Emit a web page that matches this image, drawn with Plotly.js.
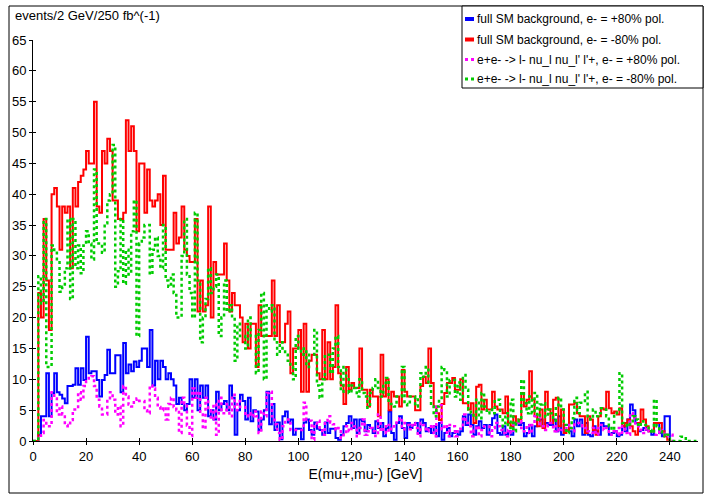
<!DOCTYPE html>
<html><head><meta charset="utf-8">
<script src="https://cdn.plot.ly/plotly-3.0.1.min.js"></script>
<style>body{margin:0;background:#fff}#chart{width:709px;height:498px}</style>
</head><body><div id="chart"></div>
<script>
// bin width 1 GeV, bins start at 0 GeV
const binWidth = 1;
const blueSM = [0,0,1,4,4,11,4,7.8,11,7.9,7.5,6.9,6.1,8.9,8.9,9.1,11.8,9.1,11.8,9.9,16.9,11,11.3,11.3,9.9,7.2,9.9,10.7,14.8,11,11,13.9,13.9,7.9,15.9,11,12.4,11.3,12.9,12,13,15,15,12,18,9,13,10,13,12,10,11,10,9,6,7,6,5,6,10,7,10,5,9,7,9,4,5,3.5,8,5,6,6.5,5,9,7,1,5,7.5,6.5,3.5,7,3.2,5,4.8,1.8,3.5,5,8,2.7,6,1.8,3,0.3,4,4.8,3,3.5,1,2,2,0.3,3,3.5,1.8,1,3,2,1.8,1,3,1.3,2,2,0.5,0.2,1,2.4,2.9,4,2.1,3.5,1.3,3.5,3.2,1.6,2.6,2.1,1.3,3.2,2.1,2.9,0.75,2.1,4.8,1.3,0.2,2.9,4,2.1,0.5,2.9,2.1,2.6,2.9,1.3,3.5,2.9,1.6,2.1,1.3,2.4,0.75,2.9,0.2,1.3,2.1,0.75,1.3,1.6,1,1.6,4,2.6,4.3,2.6,1,2.4,3.2,2.1,2.6,1,2.6,3.7,4.3,1.3,1,2.4,1,1.6,1,2.9,2.9,2.6,2.9,0.75,1.3,2.6,0.75,2.4,3.5,3.5,2.4,2.9,2.6,2.6,3.5,1.6,4,1,2.6,2.6,1.6,0.75,3.5,2.4,3.5,1,2.9,1,0.75,2.4,1.6,1,2.9,2.4,2.4,1,1.3,1.6,0.75,1,2.4,1.6,3.5,5.9,5,2.9,1.6,1.8,2.1,1.8,1.6,1,2.9,2.9,1.3,0.75,4,4];
const redSM = [0,0,24,20,36,26,18,40,41,38,31,38,37,38,28,41,38,42,43,44,47,45,45,55,38,37,47,45,49,47,39,39,36,36,37,52,47,51,47,34,45,45,37,44,39,38,39,40,35,43,31,31,31,37,32,33,38,31,30,29,29,36,21,26,21,22,38,20,29,27,27,27,32,26,21,24,22,22,20,16,19,15,19,19,12,22,17,17,17,17,26,17,22,16,16,19,21,11,15,15,18,8,19,8,13,14,14,11,10,18,10,16,10,12,22,11,9,6,12,8.3,9.4,8.6,8.6,15,8.3,8.3,5.6,8.3,7.2,7.2,4,14,7.2,10,5,8,7.2,7.2,5.6,11.5,8,7.2,7.2,7.2,5,5,8.9,10.4,9.4,15,9.4,5.6,4.5,3.4,6,7.8,9.4,9.4,10.2,8.3,8.3,10,6.1,6.1,5.1,6.1,2.9,8.8,9.1,5.1,6.7,5.1,5.1,8,5.6,5.1,5.1,4.5,7.2,2.9,2.4,4,2.9,3.5,7.8,5.6,6.7,11.3,6.7,4,2.4,5.1,2.1,8,5.1,2.9,6.7,7,2.4,5.1,1.3,1.8,5.9,5.9,6.2,4.5,4,4,1.3,4,3.5,1.8,1,4,5.3,5.1,8,5.3,4.5,4.8,4.3,5.3,2.4,2.9,3.5,2.4,1.6,1,2.9,5.1,3.5,2.4,1.6,1.6,2.9,2.9,2.9,1.6,0.75,0.2];
const magentaSig = [0,0,0.5,1.3,3.4,2.4,2.4,7.9,6.9,4.3,5.6,4.3,2.6,2.4,3.4,5.1,5.1,7.9,6.7,8.9,9.7,10.2,10.5,8.9,6.7,5.6,4.3,4.3,6.7,7.9,6.7,4.3,5.6,2.4,8.9,7.2,5.9,5.6,6.7,6.9,6.5,6.5,5,4.5,9,8.5,7,5.5,5,5.5,3.5,6,7,5.5,5,1.3,7,6,2.5,0.8,8.5,7,8,4.5,2,7,5,3.5,6,1,7,4.5,5,6,4,7.5,5,6.5,5.5,5.5,4,4.5,4,4.8,4,1.3,4.8,4,7.8,8,4,2.7,1.3,0.2,2.4,3.5,3.5,1.8,1.8,1.8,1.8,1.8,6.2,3.5,3.3,0.2,2.4,3.3,2.1,1,3.3,4,3,2.7,1.8,2.1,0.5,1,2.4,1.6,2.9,2.4,0.75,2.1,3.5,1,1.6,2.1,1.6,0.8,4.3,1.6,2.4,1.3,2.6,1.9,2.4,3.2,3.7,1.9,2.9,2.6,1.9,2.9,2.1,0.75,2.9,2.6,1.6,2.1,2.6,0.75,5.5,5.8,1.9,2.6,0.75,2.6,2.4,0.75,1.6,2,4.3,2.9,2.4,0.75,1.8,2.4,0.75,1.8,2.4,2.4,0.75,2.1,2.9,2.4,1.8,1.3,0.75,1.8,1.3,2.9,2.9,3.2,2.1,1.6,2.6,1.3,2.6,4,4,2.4,2.4,1.8,2.6,2.9,1.6,2.4,1.6,1.8,1.8,2.4,2.6,1.6,2.9,2.9,2.9,2.4,2.1,1.6,1.3,2.1,1,2.1,2.6,1.8,2.1,1,1.6,1.3,2.1,1,2.4,1.3,1,4.5,3.7,2.4,2.4,1.8,1.3,2.1,1.6,1.6,1,1.3,1.8,1.3,0.75,1,1];
const greenSig = [0,0,26.7,22.3,36,12,12,31.7,30.5,29.2,24.2,25,28,36,23,36,28,31.7,27.2,31.7,34,32,29.4,44,32,32,30.5,35.3,39,40,48,25,27.5,36,25.5,31,27,34,39,17,32,33,35,35,27,31,33,30,28,35,26,25,27,24,20,20,30,36,27,24,20,37,26,16,20,23,28,24,25,27,17,20,26,21,22,20,13,19,17,17,15,20,17,17,11,18,24,10,22,21,22,16,14,16,15,14,13,12,10,17,15,14,15,12,14,14,18,9,7,10,14,14,11,15,17,12,8,12,10,7.8,9,8.6,7.2,10,7.8,7.2,5.4,7.8,8.6,10,8.6,7.2,9.4,10.2,6,6,5.6,7.2,7.2,12,6,5.8,7.2,7.2,5.6,7.2,11,10.4,12,8.9,5.6,4,5.6,6.5,12,11.5,7.2,9.9,9.9,7.2,9.5,6.7,10.7,8.3,5.1,4.5,3.7,6.7,3.7,7.8,5.6,4.5,5.1,4.5,6.7,6.7,3.7,2.4,4.5,2.1,6.7,1.6,2.9,3.5,9.9,6.1,4.5,7.2,4.5,7.8,3.5,5.9,6.1,3.9,5.1,4.5,3.3,5.3,7,5.1,2.6,1.3,2.1,3.7,7,4.5,6.2,6.2,8,4,3.5,5.1,4,4.5,5.3,5.1,4,2.4,1.8,4.5,5.1,11,2.9,2.6,2.4,3.2,4,3.5,2.4,3.2,2.6,2.4,1.8,1.3,6.7,2.4,1.6,1,0.75,1,0.2,0,0,0,0.7,0.7,0,0,0,0];
const seriesNames = [
  "full SM background, e- = +80% pol.",
  "full SM background, e- = -80% pol.",
  "e+e- -> l- nu_l nu_l' l'+, e- = +80% pol.",
  "e+e- -> l- nu_l nu_l' l'+, e- = -80% pol."
];
const seriesColors = ["#0000ff", "#ff0000", "#ff00ff", "#00cc00"];
const xTickVals = [0,20,40,60,80,100,120,140,160,180,200,220,240];
const yTickVals = [0,5,10,15,20,25,30,35,40,45,50,55,60,65];
const xTitle = "E(mu+,mu-) [GeV]";
const yTitle = "events/2 GeV/250 fb^(-1)";

const W = 709, H = 498, ML = 33, MR = 11, MT = 40, MB = 57;
const PW = W - ML - MR, PH = H - MT - MB;
const px = v => (v - ML) / PW;
const py = v => (H - MB - v) / PH;

function stepXY(vals) {
  const x = [], y = [];
  for (let i = 0; i < vals.length; i++) { x.push(i * binWidth); y.push(vals[i]); }
  x.push(vals.length * binWidth); y.push(0);
  return {x, y};
}
const FONT = "Liberation Sans, Arial, Helvetica, sans-serif";
const allSeries = [blueSM, redSM, magentaSig, greenSig];
const dashes = ["solid", "solid", "dot", "dot"];
const widths = [2, 2, 2.5, 2.5];
const traces = allSeries.map((s, i) => {
  const d = stepXY(s);
  return {type: "scatter", mode: "lines", x: d.x, y: d.y, name: seriesNames[i],
    line: {shape: "hv", color: seriesColors[i], width: widths[i], dash: dashes[i]},
    showlegend: false, hoverinfo: "skip"};
});
// helper trace for the inner half of crossing ticks
traces.push({type: "scatter", mode: "none", x: [0], y: [0], xaxis: "x2", yaxis: "y2", showlegend: false, hoverinfo: "skip"});

const xr = [0, 250.6], yr = [0, 65];
const shapes = [
  {type: "rect", xref: "paper", yref: "paper", x0: px(9), x1: px(703), y0: py(493), y1: py(6), line: {color: "#000", width: 1}, layer: "below"},
];
const annotations = [
  {xref: "paper", yref: "paper", x: px(13), y: py(15), xanchor: "left", yanchor: "middle", text: yTitle, showarrow: false, font: {family: FONT, size: 13, color: "#000"}}
];
// legend box
shapes.push({type: "rect", xref: "paper", yref: "paper", x0: px(462), x1: px(703), y0: py(88), y1: py(6), line: {color: "#000", width: 1}, fillcolor: "#fff", layer: "above"});
const legY = [19, 39.5, 59.5, 79];
seriesNames.forEach((n, i) => {
  shapes.push({type: "line", xref: "paper", yref: "paper", x0: px(465), x1: px(474), y0: py(legY[i]), y1: py(legY[i]),
    line: {color: seriesColors[i], width: i < 2 ? 4 : 3, dash: i < 2 ? "solid" : "dot"}, layer: "above"});
  annotations.push({xref: "paper", yref: "paper", x: px(475), y: py(legY[i]), xanchor: "left", yanchor: "middle", text: n, showarrow: false, font: {family: FONT, size: 12, color: "#000"}});
});

const axisCommon = {showgrid: false, zeroline: false, linecolor: "#000", linewidth: 1, tickcolor: "#000", tickwidth: 1, ticklen: 3, color: "#000"};
const layout = {
  width: W, height: H, margin: {l: ML, r: MR, t: MT, b: MB, pad: 0},
  paper_bgcolor: "#fff", plot_bgcolor: "#fff", showlegend: false,
  font: {family: FONT, size: 13, color: "#000"},
  xaxis: Object.assign({}, axisCommon, {range: xr, tickmode: "array", tickvals: xTickVals, ticks: "outside", showline: true, layer: "below traces",
    title: {text: xTitle, font: {family: FONT, size: 14, color: "#000"}, standoff: 6}, tickfont: {family: FONT, size: 13}}),
  yaxis: Object.assign({}, axisCommon, {range: yr, tickmode: "array", tickvals: yTickVals, ticks: "outside", showline: true, layer: "below traces", tickfont: {family: FONT, size: 13}}),
  xaxis2: Object.assign({}, axisCommon, {range: xr, overlaying: "x", anchor: "y2", side: "bottom", tickmode: "array", tickvals: xTickVals, ticks: "inside", showticklabels: false, showline: false}),
  yaxis2: Object.assign({}, axisCommon, {range: yr, overlaying: "y", anchor: "x2", side: "left", tickmode: "array", tickvals: yTickVals, ticks: "inside", showticklabels: false, showline: false}),
  shapes: shapes, annotations: annotations
};
Plotly.newPlot("chart", traces, layout, {staticPlot: true, displayModeBar: false});
</script></body></html>
